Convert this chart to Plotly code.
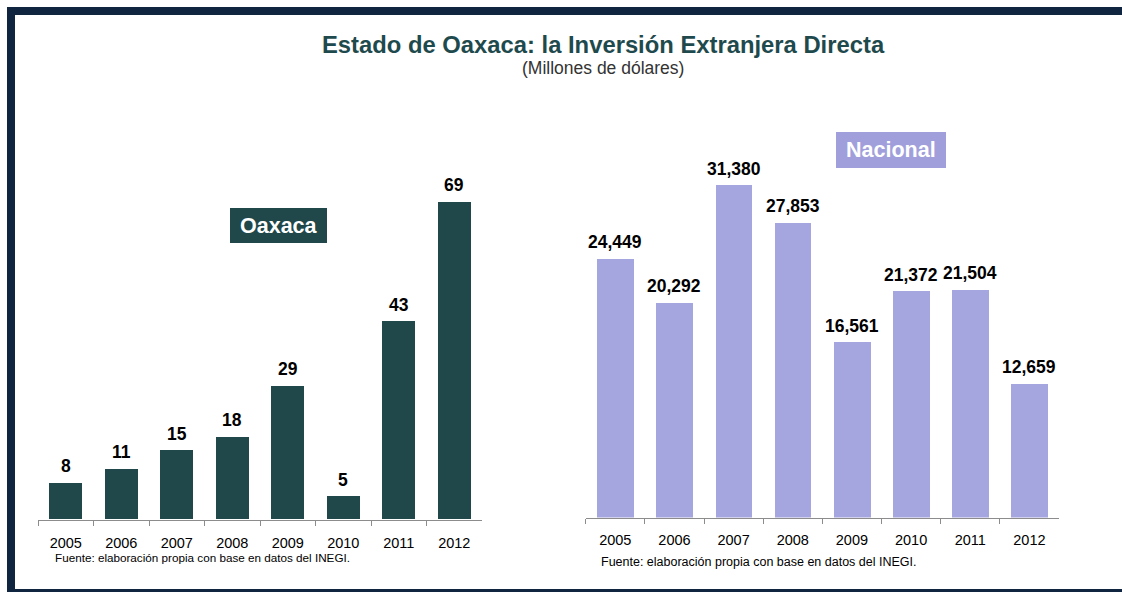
import plotly.graph_objects as go

years = ["2005", "2006", "2007", "2008", "2009", "2010", "2011", "2012"]
oaxaca = [8, 11, 15, 18, 29, 5, 43, 69]
nacional = [24449, 20292, 31380, 27853, 16561, 21372, 21504, 12659]

title_text = "Estado de Oaxaca: la Inversión Extranjera Directa"
subtitle_text = "(Millones de dólares)"
source_text = "Fuente: elaboración propia con base en datos del INEGI."
label_left = "Oaxaca"
label_right = "Nacional"

W, H = 1122, 592
FONT = "Liberation Sans, Arial, sans-serif"
C_OAX = "#20474A"
C_NAC = "#A5A5E0"
C_BORDER = "#10253F"
C_TITLE = "#1F4A4D"


def px(x):
    return x / W


def py(y):
    return 1 - y / H


fig = go.Figure()
fig.add_trace(go.Bar(x=years, y=oaxaca, marker=dict(color=C_OAX, line=dict(width=0)),
                     width=0.6, xaxis="x", yaxis="y", hoverinfo="x+y"))
fig.add_trace(go.Bar(x=years, y=nacional, marker=dict(color=C_NAC, line=dict(width=0)),
                     width=0.62, xaxis="x2", yaxis="y2", hoverinfo="x+y"))

axis_common = dict(type="category", categoryorder="array", categoryarray=years,
                   range=[-0.5, len(years) - 0.5], autorange=False,
                   showgrid=False, zeroline=False, showline=True,
                   linecolor="#8C8C8C", linewidth=1, ticks="outside", tickson="boundaries",
                   ticklen=5, tickcolor="#8C8C8C", tickfont=dict(family=FONT, size=14.5, color="#000"),
                   fixedrange=True)

left_axis_y = 519.5
right_axis_y = 517.5
left_scale = 4.606
right_scale = 0.010596
left_max = 75
right_max = 35000

fig.update_layout(
    width=W, height=H,
    margin=dict(l=0, r=0, t=0, b=0),
    paper_bgcolor="white", plot_bgcolor="white",
    showlegend=False, bargap=0,
    xaxis=dict(domain=[px(38), px(482)], anchor="y", ticklabelstandoff=10, **axis_common),
    yaxis=dict(domain=[py(left_axis_y), py(left_axis_y - left_max * left_scale)], range=[0, left_max],
               autorange=False, visible=False, fixedrange=True, anchor="x"),
    xaxis2=dict(domain=[px(585.7), px(1059)], anchor="y2", ticklabelstandoff=9, **axis_common),
    yaxis2=dict(domain=[py(right_axis_y), py(right_axis_y - right_max * right_scale)], range=[0, right_max],
                autorange=False, visible=False, fixedrange=True, anchor="x2"),
)

annotations = []
for i, v in enumerate(oaxaca):
    annotations.append(dict(x=i, y=v, xref="x", yref="y", text=f"<b>{v}</b>", showarrow=False,
                            yanchor="middle", yshift=16.5,
                            font=dict(family=FONT, size=17.5, color="#000")))
for i, v in enumerate(nacional):
    annotations.append(dict(x=i, y=v, xref="x2", yref="y2", text=f"<b>{v:,}</b>", showarrow=False,
                            yanchor="middle", yshift=16.5,
                            font=dict(family=FONT, size=17.5, color="#000")))

annotations += [
    dict(x=px(603), y=py(44), xref="paper", yref="paper", text=f"<b>{title_text}</b>", showarrow=False,
         xanchor="center", yanchor="middle", font=dict(family=FONT, size=23.8, color=C_TITLE)),
    dict(x=px(603), y=py(68), xref="paper", yref="paper", text=subtitle_text, showarrow=False,
         xanchor="center", yanchor="middle", font=dict(family=FONT, size=17.5, color="#333333")),
    dict(x=px(53), y=py(557), xref="paper", yref="paper", text=source_text, showarrow=False,
         xanchor="left", yanchor="middle", font=dict(family=FONT, size=11.7, color="#000")),
    dict(x=px(599), y=py(562), xref="paper", yref="paper", text=source_text, showarrow=False,
         xanchor="left", yanchor="middle", font=dict(family=FONT, size=12.5, color="#000")),
    dict(x=px(278.5), y=py(225.5), xref="paper", yref="paper", text=f"<b>{label_left}</b>", showarrow=False,
         xanchor="center", yanchor="middle", font=dict(family=FONT, size=21.5, color="white")),
    dict(x=px(891), y=py(150), xref="paper", yref="paper", text=f"<b>{label_right}</b>", showarrow=False,
         xanchor="center", yanchor="middle", font=dict(family=FONT, size=21.5, color="white")),
]
fig.update_layout(annotations=annotations)

shapes = [
    dict(type="rect", xref="paper", yref="paper", x0=px(230), x1=px(327), y0=py(243), y1=py(208),
         fillcolor=C_OAX, line=dict(width=0), layer="below"),
    dict(type="rect", xref="paper", yref="paper", x0=px(836), x1=px(946), y0=py(168), y1=py(132),
         fillcolor="#A09FDC", line=dict(width=0), layer="below"),
    dict(type="rect", xref="paper", yref="paper", x0=px(7), x1=px(1122), y0=py(15), y1=py(7),
         fillcolor=C_BORDER, line=dict(width=0)),
    dict(type="rect", xref="paper", yref="paper", x0=px(7), x1=px(15), y0=py(592), y1=py(7),
         fillcolor=C_BORDER, line=dict(width=0)),
    dict(type="rect", xref="paper", yref="paper", x0=px(7), x1=px(1122), y0=py(592), y1=py(589),
         fillcolor=C_BORDER, line=dict(width=0)),
]
fig.update_layout(shapes=shapes)

fig.write_html("out.html", config={"displayModeBar": False},
               post_script="document.body.style.margin='0';document.body.style.overflow='hidden';")
